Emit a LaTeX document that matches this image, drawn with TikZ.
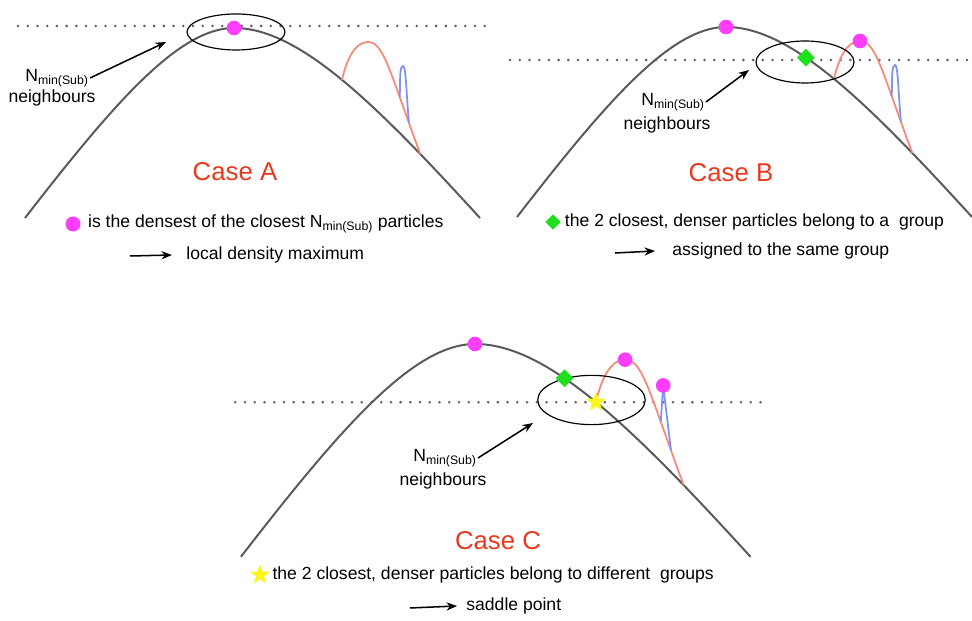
\documentclass[tikz,border=0pt]{standalone}
\usepackage{fontspec}
\setmainfont{Liberation Sans}
\usepackage{xcolor}
\usepackage{tikz}
\usetikzlibrary{positioning,shapes.geometric,arrows.meta}
\definecolor{hillgray}{HTML}{5A5A5A}
\definecolor{dotgray}{HTML}{5E5E5E}
\definecolor{salmon}{HTML}{F58A78}
\definecolor{cornflower}{HTML}{7E92F2}
\definecolor{pinkdot}{HTML}{FF3DFF}
\definecolor{greenmark}{HTML}{1FE01F}
\definecolor{staryellow}{HTML}{FAF51A}
\definecolor{casered}{HTML}{E8391F}

\begin{document}
\begin{tikzpicture}[
  x=0.03cm, y=0.03cm,
  hill/.style={line width=1.7pt, color=hillgray},
  bump/.style={line width=1.5pt, color=salmon},
  spike/.style={line width=1.5pt, color=cornflower},
  level/.style={line width=2.4pt, color=dotgray, line cap=round, dash pattern=on 0pt off 8.3pt},
  hood/.style={line width=1pt, color=black},
  peakdot/.style={circle, fill=pinkdot, inner sep=0pt, minimum size=0.44cm},
  joindiamond/.style={diamond, fill=greenmark, inner sep=0pt, minimum size=0.54cm},
  saddlestar/.style={star, star points=5, star point ratio=2.4, fill=staryellow, inner sep=0pt, minimum size=0.62cm},
  lbl/.style={font=\fontsize{15}{18}\selectfont, inner sep=1pt, text=black},
  casetitle/.style={font=\fontsize{22}{26}\selectfont, text=casered},
  arrow/.style={->, >={Stealth[length=9pt, width=7pt]}, line width=1.3pt}
]
\useasboundingbox (0,0) rectangle (972,621);

% --- Case A ---
\begin{scope}[shift={(234,593)}]
  \draw[level] (-216,2) -- (253,2);
  \draw[hill] (-209,-190) .. controls (-120,-75) and (-55,0) .. (0,0) coordinate (a-top)
    .. controls (65,0) and (141,-75) .. (246,-190) coordinate[pos=0.5] (a-base) coordinate[pos=0.8] (a-foot);
  \draw[bump] (a-base) .. controls (112,-34) and (120,-14) .. (134,-14) coordinate (a-crest)
    .. controls (150,-14) and (156,-45) .. (a-foot) coordinate[pos=0.72] (a-fork) coordinate[pos=0.86] (a-join);
  \draw[spike] (a-fork) .. controls (166,-48) and (166,-38) .. (169,-38) coordinate (a-tip)
    .. controls (172,-38) and (172,-62) .. (a-join);
  \draw[hood] (2,-4) ellipse [x radius=49, y radius=18];
  \node[peakdot] at (a-top) {};
\end{scope}
\node[casetitle] (caseA) at (235,449) {Case A};
\node[lbl] (nA) at (57,543) {N\textsubscript{min(Sub)}};
\node[lbl] (nbA) at (52,523) {neighbours};
\coordinate (tipA) at (166,579);
\draw[arrow] (nA.east) -- (tipA);
\node[peakdot, minimum size=0.45cm] (bulA) at (73,397) {};
\node[lbl, right=0.18cm of bulA] (txtA) {is the densest of the closest N\textsubscript{min(Sub)} particles};
\coordinate (arA) at (130,365);
\node[lbl, anchor=west] (resA) at (185,366) {local density maximum};
\draw[arrow] (arA) -- ([xshift=-0.39cm]resA.west);

% --- Case B ---
\begin{scope}[shift={(726,594)}]
  \draw[level] (-216,-33) -- (244,-33);
  \draw[hill] (-209,-190) .. controls (-120,-75) and (-55,0) .. (0,0) coordinate (b-top)
    .. controls (65,0) and (141,-75) .. (246,-190) coordinate[pos=0.38] (b-merge) coordinate[pos=0.5] (b-base) coordinate[pos=0.8] (b-foot);
  \draw[bump] (b-base) .. controls (112,-34) and (120,-14) .. (134,-14) coordinate (b-crest)
    .. controls (150,-14) and (156,-45) .. (b-foot) coordinate[pos=0.72] (b-fork) coordinate[pos=0.86] (b-join);
  \draw[spike] (b-fork) .. controls (166,-48) and (166,-38) .. (169,-38) coordinate (b-tip)
    .. controls (172,-38) and (172,-62) .. (b-join);
  \draw[hood] (79,-35) ellipse [x radius=49, y radius=21];
  \node[peakdot] at (b-top) {};
  \node[peakdot] at (b-crest) {};
  \node[joindiamond] at (b-merge) {};
\end{scope}
\node[casetitle] (caseB) at (731,448) {Case B};
\node[lbl] (nB) at (673,519) {N\textsubscript{min(Sub)}};
\node[lbl] (nbB) at (667,496) {neighbours};
\coordinate (tipB) at (749,551);
\draw[arrow] (nB.east) -- (tipB);
\node[joindiamond, minimum size=0.46cm] (bulB) at (553,399) {};
\node[lbl, right=0.08cm of bulB] (txtB) {the 2 closest, denser particles belong to a~ group};
\coordinate (arB) at (615,368);
\node[lbl, anchor=west] (resB) at (671,370) {assigned to the same group};
\draw[arrow] (arB) -- ([xshift=-0.48cm]resB.west);

% --- Case C ---
\begin{scope}[shift={(475,277)}, scale=1.12]
  \draw[level] (-214,-52) -- (256,-52);
  \draw[hill] (-209,-190) .. controls (-120,-75) and (-55,0) .. (0,0) coordinate (c-top)
    .. controls (65,0) and (141,-75) .. (246,-190) coordinate[pos=0.38] (c-merge) coordinate[pos=0.5] (c-base) coordinate[pos=0.8] (c-foot);
  \draw[bump] (c-base) .. controls (112,-34) and (120,-14) .. (134,-14) coordinate (c-crest)
    .. controls (150,-14) and (156,-45) .. (c-foot) coordinate[pos=0.72] (c-fork) coordinate[pos=0.86] (c-join);
  \draw[spike] (c-fork) -- (168,-37) coordinate (c-tip) -- (c-join);
  \draw[hood] (104,-50) ellipse [x radius=48, y radius=22];
  \node[peakdot] at (c-top) {};
  \node[peakdot] at (c-crest) {};
  \node[peakdot] at (c-tip) {};
  \node[joindiamond] at (c-merge) {};
  \node[saddlestar] at (c-base) {};
\end{scope}
\node[casetitle] (caseC) at (498,80) {Case C};
\node[lbl] (nC) at (445,163) {N\textsubscript{min(Sub)}};
\node[lbl] (nbC) at (443,140) {neighbours};
\coordinate (tipC) at (533,198);
\draw[arrow] (nC.east) -- (tipC);
\node[saddlestar] (bulC) at (260,46) {};
\node[lbl, right=0.15cm of bulC] (txtC) {the 2 closest, denser particles belong to different~ groups};
\coordinate (arC) at (410,13);
\node[lbl, anchor=west] (resC) at (465,15) {saddle point};
\draw[arrow] (arC) -- ([xshift=-0.24cm]resC.west);

\end{tikzpicture}
\end{document}
